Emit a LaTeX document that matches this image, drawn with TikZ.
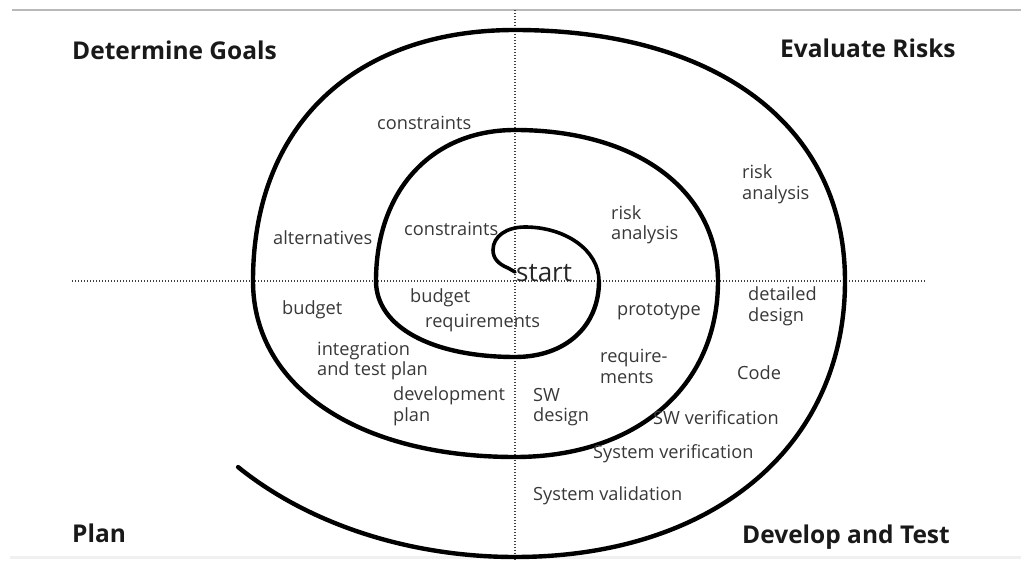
\documentclass[tikz,border=0pt]{standalone}
\usepackage{fontspec}
\setmainfont{Open Sans}
\begin{document}
\begin{tikzpicture}[x=1pt,y=1pt,
  lab/.style={anchor=west,inner sep=0pt,font=\fontsize{18.2}{20.5}\selectfont,text=black!78,align=left},
  ttl/.style={anchor=base west,inner sep=0pt,font=\fontsize{24.5}{28}\selectfont\bfseries,text=black!90},
  axis/.style={line width=1.5pt,black!75,dash pattern=on 1.4pt off 1.6pt},
  spiral/.style={line width=4.4pt,line cap=round,line join=round}]
\useasboundingbox (0,0) rectangle (1021,-561);
% frame lines
\draw[gray!55,line width=2pt] (12,-10) -- (1021,-10);
\draw[gray!12,line width=3pt] (10,-557) -- (1021,-557);
% axes
\draw[axis] (72,-281) -- (925,-281);
\draw[axis] (515,-10) -- (515,-560);
% spiral
\draw[spiral,line width=3.6pt] (515,-272) -- (508,-268)
  .. controls (498,-264) and (493,-258) .. (493,-250)
  .. controls (493,-236) and (507,-227) .. (525,-227)
  .. controls (565,-227) and (599,-250) .. (599,-281);
\draw[spiral] (599,-281)
  .. controls (599,-326.6) and (565.4,-357) .. (515,-357)
  .. controls (431.6,-357) and (376,-326.6) .. (376,-281)
  .. controls (376,-190.4) and (431.6,-130) .. (515,-130)
  .. controls (636.8,-130) and (718,-190.4) .. (718,-281)
  .. controls (718,-386.6) and (636.8,-457) .. (515,-457)
  .. controls (357.8,-457) and (253,-386.6) .. (253,-281)
  .. controls (253,-126) and (354,-30) .. (515,-30)
  .. controls (717,-30) and (845,-126) .. (845,-281)
  .. controls (845,-446.6) and (713,-557) .. (515,-557)
  arc[start angle=270,end angle=222.4,x radius=375,y radius=276];
% titles
\node[ttl] (dg) at (72,-60) {Determine Goals};
\node[ttl] (er) at (780,-58) {Evaluate Risks};
\node[ttl] (pl) at (72,-542) {Plan};
\node[ttl] (dt) at (742,-543) {Develop and Test};
% labels
\node[lab] (c1) at (377,-123) {constraints};
\node[lab] (alt) at (273,-238) {alternatives};
\node[lab] (c2) at (404,-229) {constraints};
\node[lab] (ra1) at (611,-225) {risk\\analysis};
\node[lab] (ra2) at (742,-184.5) {risk\\analysis};
\node[anchor=base west,inner sep=0pt,font=\fontsize{26}{30}\selectfont,text=black!85] (st) at (516,-282) {start};
\node[lab] (b1) at (282,-310) {budget};
\node[lab] (b2) at (410,-298) {budget};
\node[lab] (req) at (425,-323) {requirements};
\node[lab] (itp) at (317,-361) {integration\\and test plan};
\node[lab] (dp) at (393,-406.5) {development\\plan};
\node[lab] (pro) at (617,-312) {prototype};
\node[lab] (dd) at (748,-306.5) {detailed\\design};
\node[lab] (rq2) at (600,-366.5) {require-\\ments};
\node[lab] (code) at (737,-373) {Code};
\node[lab] (swd) at (533,-407) {SW\\design};
\node[lab] (swv) at (653,-418) {SW verification};
\node[lab] (syv) at (593,-454) {System verification};
\node[lab] (syval) at (533,-496) {System validation};
\end{tikzpicture}
\end{document}
